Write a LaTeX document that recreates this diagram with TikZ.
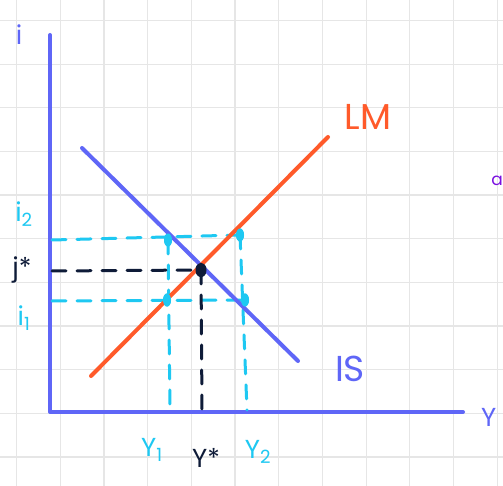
\documentclass[tikz,border=0pt]{standalone}
\usepackage{fontspec}
\usetikzlibrary{shapes.geometric}
\setmainfont{Poppins}
\definecolor{axisblue}{HTML}{5F66F7}
\definecolor{lmorange}{HTML}{FF5A2A}
\definecolor{cyanc}{HTML}{1EC8F2}
\definecolor{navy}{HTML}{0E1B38}
\definecolor{gridc}{HTML}{E6E6E6}
\definecolor{purp}{HTML}{7A10E0}
\begin{document}
\begin{tikzpicture}[x=1pt,y=-1pt,line cap=round,
  gridline/.style={gridc,line width=1.2pt},
  axisline/.style={axisblue,line width=4pt},
  curve/.style={line width=4pt},
  dashc/.style={cyanc,line width=3pt,dash pattern=on 14pt off 11pt},
  dashn/.style={navy,line width=3pt,dash pattern=on 14pt off 11pt},
  dotc/.style={ellipse,fill=cyanc,inner sep=0pt,minimum width=8pt,minimum height=13pt},
  dotn/.style={ellipse,fill=navy,inner sep=0pt,minimum width=11pt,minimum height=14pt},
  lab/.style={inner sep=0pt,font=\fontsize{26}{26}\selectfont},
  big/.style={inner sep=0pt,font=\fontsize{36}{36}\selectfont}]
\useasboundingbox (0,0) rectangle (503,486);
\fill[white] (0,0) rectangle (503,486);
% grid
\foreach \i in {0,...,11} \draw[gridline] ({16.5+43.7*\i},0) -- ({16.5+43.7*\i},486);
\foreach \j in {0,...,10} \draw[gridline] (0,{20.5+43.65*\j}) -- (503,{20.5+43.65*\j});
% coordinates
\coordinate (ytop) at (50,35);
\coordinate (orig) at (50,412);
\coordinate (xend) at (463,412);
\coordinate (isA) at (82,148);
\coordinate (isB) at (298,361);
\coordinate (lmA) at (91,376);
\coordinate (lmB) at (328,137);
% axes
\draw[axisline,line join=round] (ytop) -- (orig) -- (xend);
% points
\node[dotc] (p1) at (168,240) {};
\node[dotc] (p2) at (240,235) {};
\node[dotc] (p3) at (167,300) {};
\node[dotc] (p4) at (245,300) {};
\node[dotn] (eq) at (201,270) {};
\coordinate (i2L) at (52,240);
\coordinate (isL) at (52,271);
\coordinate (i1L) at (52,301);
\coordinate (b1) at (170,410);
\coordinate (b2) at (247,410);
\coordinate (bs) at (202,410);
% dashed guides
\draw[dashc] (i2L) -- (p2.center);
\draw[dashc] (i1L) -- (p4.center);
\draw[dashc] (p1.center) -- (b1);
\draw[dashc] (p2.center) -- (b2);
\draw[dashn] (isL) -- (eq.center);
\draw[dashn] (eq.center) -- (bs);
% curves
\draw[curve,axisblue] (isA) -- (isB);
\draw[curve,lmorange] (lmA) -- (lmB);
\node[dotc] at (p1) {};
\node[dotc] at (p2) {};
\node[dotc] at (p3) {};
\node[dotc] at (p4) {};
\node[dotn] at (eq) {};
% labels
\node[lab,text=axisblue] (li) at (19,35) {i};
\node[big,text=lmorange] (llm) at (368,117) {LM};
\node[big,text=axisblue] (lis) at (350,369) {IS};
\node[lab,text=axisblue,anchor=west] (ly) at (481,417) {Y};
\node[lab,text=purp,anchor=east,font=\fontsize{17}{17}\selectfont] (la) at (503,181) {a};
\node[lab,text=cyanc] (li2) at (24,214) {i\textsubscript{2}};
\node[lab,text=navy] (lis2) at (22,270) {j*};
\node[lab,text=cyanc] (li1) at (24,318) {i\textsubscript{1}};
\node[lab,text=cyanc] (ly1) at (152,450) {Y\textsubscript{1}};
\node[lab,text=navy] (lys) at (206,458) {Y*};
\node[lab,text=cyanc] (ly2) at (258,452) {Y\textsubscript{2}};
\end{tikzpicture}
\end{document}
